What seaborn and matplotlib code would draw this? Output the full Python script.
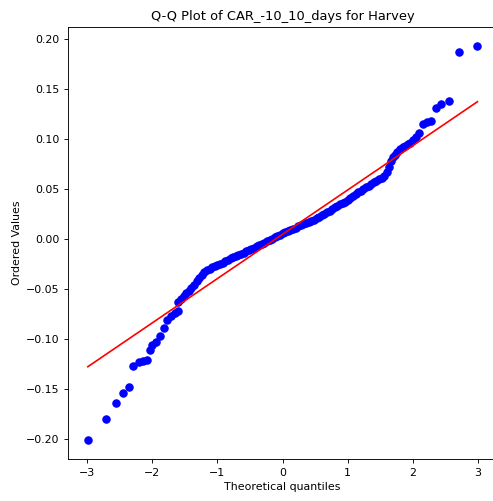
import matplotlib
matplotlib.use('Agg')
import matplotlib.pyplot as plt
import seaborn as sns

# Theoretical quantiles and ordered sample values
theoretical_q = [
    -2.99, -2.71, -2.55, -2.445, -2.36, -2.29, -2.21, -2.15, -2.08, -2.035,
    -2.00, -1.94, -1.886, -1.82, -1.78, -1.71, -1.65, -1.61,
    -1.60, -1.56, -1.52, -1.48, -1.44, -1.40, -1.36, -1.32, -1.28, -1.24,
    -1.20, -1.16, -1.12, -1.08, -1.04, -1.00, -0.96, -0.92, -0.88, -0.84,
    -0.80, -0.76, -0.72, -0.68, -0.64, -0.60, -0.56, -0.52, -0.48, -0.44,
    -0.40, -0.36, -0.32, -0.28, -0.24, -0.20, -0.16, -0.12, -0.08, -0.04,
    0.00, 0.04, 0.08, 0.12, 0.16, 0.20, 0.24, 0.28, 0.32, 0.36,
    0.40, 0.44, 0.48, 0.52, 0.56, 0.60, 0.64, 0.68, 0.72, 0.76,
    0.80, 0.84, 0.88, 0.92, 0.96, 1.00, 1.04, 1.08, 1.12, 1.16,
    1.20, 1.24, 1.28, 1.32, 1.36, 1.40, 1.44, 1.48, 1.52, 1.56,
    1.60, 1.63, 1.66, 1.69, 1.72, 1.76, 1.80, 1.84, 1.88, 1.92,
    1.96, 2.00, 2.04, 2.09, 2.15, 2.21, 2.27, 2.35, 2.435, 2.547,
    2.70, 2.98,
]
ordered_vals = [
    -0.2015, -0.1805, -0.1640, -0.1540, -0.1480, -0.1270, -0.1235, -0.1222, -0.1208, -0.1110,
    -0.1060, -0.1030, -0.0970, -0.0895, -0.0810, -0.0770, -0.0740, -0.0720,
    -0.0630, -0.0600, -0.0570, -0.0545, -0.0520, -0.0495, -0.0460, -0.0425, -0.0390, -0.0360,
    -0.0335, -0.0315, -0.0300, -0.0285, -0.0275, -0.0265, -0.0250, -0.0238, -0.0225, -0.0210,
    -0.0195, -0.0182, -0.0170, -0.0158, -0.0148, -0.0138, -0.0125, -0.0112, -0.0100, -0.0088,
    -0.0075, -0.0062, -0.0050, -0.0038, -0.0025, -0.0012, 0.0000, 0.0015, 0.0030, 0.0042,
    0.0055, 0.0066, 0.0077, 0.0088, 0.0100, 0.0112, 0.0124, 0.0136, 0.0147, 0.0158,
    0.0170, 0.0180, 0.0192, 0.0204, 0.0218, 0.0233, 0.0248, 0.0265, 0.0282, 0.0298,
    0.0315, 0.0330, 0.0345, 0.0358, 0.0372, 0.0390, 0.0408, 0.0425, 0.0445, 0.0463,
    0.0482, 0.0500, 0.0515, 0.0530, 0.0548, 0.0565, 0.0580, 0.0595, 0.0610, 0.0630,
    0.0665, 0.0720, 0.0780, 0.0820, 0.0840, 0.0870, 0.0895, 0.0915, 0.0930, 0.0945,
    0.0955, 0.0990, 0.1020, 0.1060, 0.1145, 0.1167, 0.1180, 0.1310, 0.1347, 0.1380,
    0.1867, 0.1930,
]

# Least-squares fit line end points
fit_x = [-2.99, 2.99]
fit_y = [-0.128, 0.137]

fig = plt.figure(figsize=(4.93, 5.01), dpi=100)
ax = fig.add_axes([0.1385, 0.0838, 0.8696, 0.8623])

sns.scatterplot(x=theoretical_q, y=ordered_vals, color='blue', s=28,
                edgecolor='blue', linewidth=0.8, ax=ax, zorder=2)
sns.lineplot(x=fit_x, y=fit_y, color='red', linewidth=1.2, ax=ax, zorder=3)

ax.set_xlim(-3.29, 3.29)
ax.set_ylim(-0.2203, 0.2117)
ax.set_xticks([-3, -2, -1, 0, 1, 2, 3])
ax.tick_params(labelsize=7.9, length=2.8, width=0.65)
for sp in ax.spines.values():
    sp.set_linewidth(0.65)
ax.spines['right'].set_visible(False)
ax.set_title('Q-Q Plot of CAR_-10_10_days for Harvey', fontsize=9.4, pad=4.7)
ax.set_xlabel('Theoretical quantiles', fontsize=7.9, labelpad=2.8)
ax.set_ylabel('Ordered Values', fontsize=7.9, labelpad=2.8)

plt.savefig('out.png', dpi=100)
plt.close()
